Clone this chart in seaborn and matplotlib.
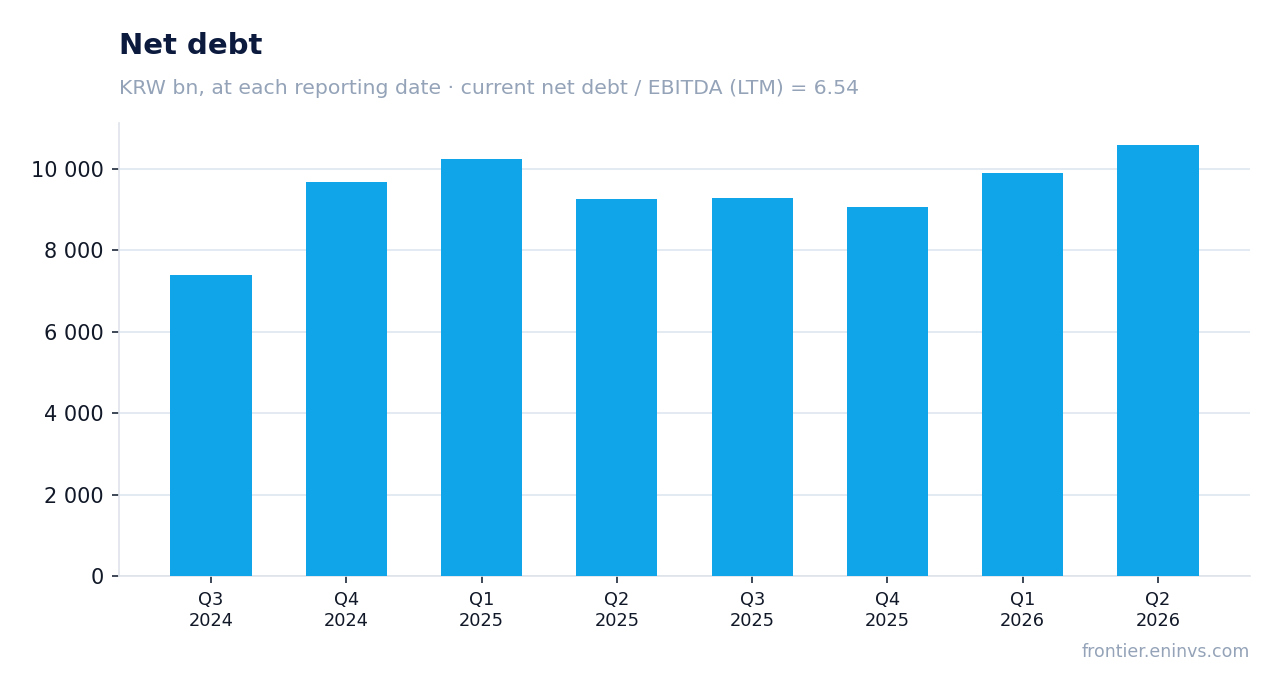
import matplotlib
matplotlib.use("Agg")
import matplotlib.pyplot as plt
import seaborn as sns
import pandas as pd
from matplotlib.ticker import FuncFormatter

quarters = ["Q3\n2024", "Q4\n2024", "Q1\n2025", "Q2\n2025", "Q3\n2025", "Q4\n2025", "Q1\n2026", "Q2\n2026"]
net_debt = [7395, 9690, 10245, 9270, 9285, 9065, 9905, 10600]

title = "Net debt"
subtitle = "KRW bn, at each reporting date · current net debt / EBITDA (LTM) = 6.54"
source = "frontier.eninvs.com"

df = pd.DataFrame({"quarter": quarters, "net_debt": net_debt})

sns.set_theme(style="white")
plt.rcParams['font.family'] = ['DejaVu Sans']

fig = plt.figure(figsize=(12.81, 6.93), dpi=100)
ax = fig.add_axes([119/1281, 1-576/693, (1250-119)/1281, (576-123)/693])

sns.barplot(data=df, x="quarter", y="net_debt", color="#10a5e9", width=0.6,
            saturation=1, linewidth=0, ax=ax, zorder=3)

ax.set_xlim(-0.68, 7.68)
ax.set_ylim(0, 11130)
ax.set_yticks([0, 2000, 4000, 6000, 8000, 10000])
ax.yaxis.set_major_formatter(FuncFormatter(lambda v, p: f"{int(v):,}".replace(",", " ")))
ax.grid(axis="y", color="#e2e8f0", linewidth=1.3, zorder=0)
ax.set_axisbelow(True)
ax.set_xlabel("")
ax.set_ylabel("")

for s in ["top", "right"]:
    ax.spines[s].set_visible(False)
for s in ["left", "bottom"]:
    ax.spines[s].set_color("#dfe3ea")
    ax.spines[s].set_linewidth(1.2)

ax.tick_params(axis="y", left=True, labelsize=15, colors="#1e293b", length=5, width=1.2, pad=6)
ax.tick_params(axis="x", bottom=True, labelsize=12.8, colors="#1e293b", length=5, width=1.2, pad=6)
for lbl in ax.get_xticklabels() + ax.get_yticklabels():
    lbl.set_color("#111827")

fig.text(119/1281, 1-54/693, title, fontsize=21, fontweight="bold", color="#0c1a3e",
         ha="left", va="baseline")
fig.text(119/1281, 1-94/693, subtitle, fontsize=14.65, color="#94a3b8",
         ha="left", va="baseline")
fig.text(1250/1281, 1-657/693, source, fontsize=12.5, color="#94a3b8",
         ha="right", va="baseline")

fig.savefig("out.png", dpi=100)
